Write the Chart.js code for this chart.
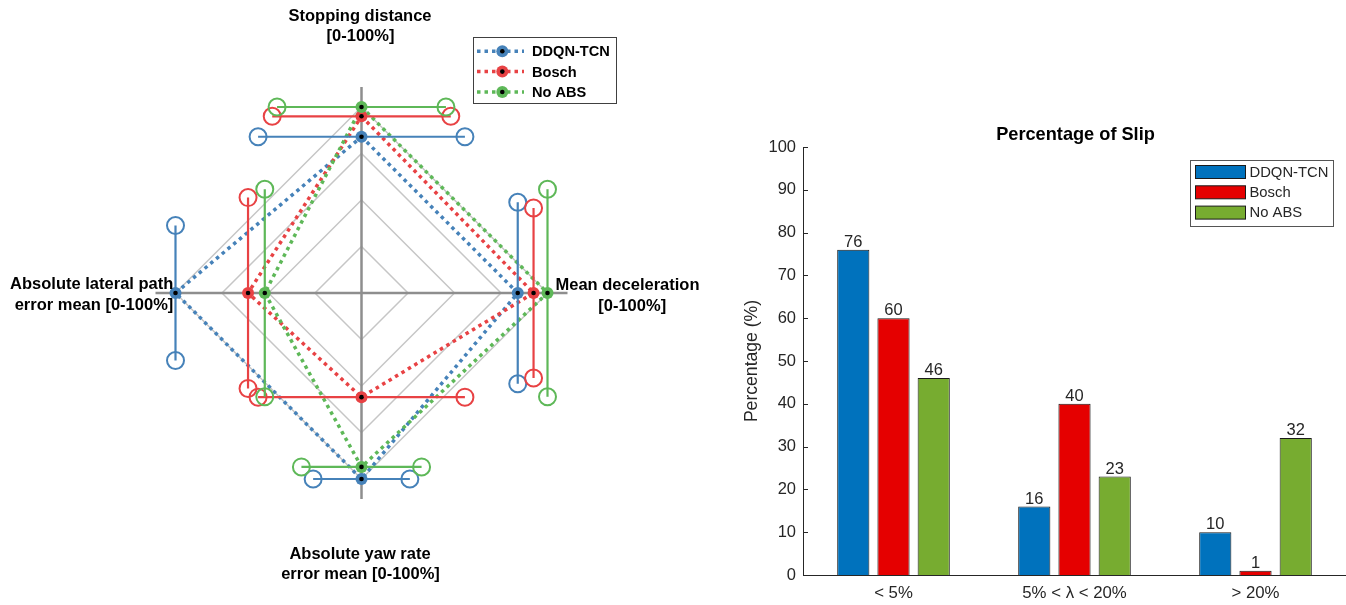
<!DOCTYPE html>
<html>
<head>
<meta charset="utf-8">
<title>ABS controller comparison</title>
<script src="https://cdn.jsdelivr.net/npm/chart.js@4.4.1/dist/chart.umd.min.js"></script>
<style>
  html, body { margin: 0; padding: 0; background: #ffffff; }
  #wrap { position: relative; width: 1346px; height: 605px; overflow: hidden; background: #ffffff; }
  #spider { position: absolute; left: 0; top: 0; }
  #bars { position: absolute; left: 730px; top: 0; }
</style>
</head>
<body>
<div id="wrap">
  <canvas id="spider" width="730" height="605"></canvas>
  <canvas id="bars" width="616" height="605"></canvas>
</div>
<script>
// ---------------- spider plot data (normalised scores, %) ----------------
const metricLabels = [
  ['Stopping distance', '[0-100%]'],
  ['Mean deceleration', '[0-100%]'],
  ['Absolute yaw rate', 'error mean [0-100%]'],
  ['Absolute lateral path', 'error mean [0-100%]']
];
const methodNames = ['DDQN-TCN', 'Bosch', 'No ABS'];
const ddqnScore  = [84, 84, 100, 100];
const boschScore = [95, 92.5, 56, 61];
const noAbsScore = [100, 100, 93.5, 52];
const ddqnSpread  = [55.6, 48.8, 26, 36.3];
const boschSpread = [48, 45.7, 55.6, 51.3];
const noAbsSpread = [45.4, 55.8, 32.3, 55.8];
const webLevels = [25, 50, 75, 100];
const axisReach = 110.75;

// ---------------- slip histogram data (%) ----------------
const slipBands = ['< 5%', '5% < \u03bb < 20%', '> 20%'];
const ddqnSlip  = [76, 16, 10];
const boschSlip = [60, 40, 1];
const noAbsSlip = [46, 23, 32];
const slipTickStep = 10;

// ---------------- shared styling ----------------
const FONT = "'Liberation Sans', Arial, Helvetica, sans-serif";
const spiderColors = ['rgb(70,130,185)', 'rgb(232,66,68)', 'rgb(94,184,88)'];
const barColors = ['#0072BD', '#E50000', '#77AC30'];
const axisInk = '#262626';

// ---------------- spider plot ----------------
const SP = { W: 730, H: 605, CX: 361.5, CY: 293, PX: 1.86 };
const nAxes = metricLabels.length;

function axisDir(i) {
  const a = Math.PI / 2 - i * 2 * Math.PI / nAxes;
  return [Math.round(Math.cos(a) * 1e9) / 1e9, Math.round(Math.sin(a) * 1e9) / 1e9];
}
function polar(i, v) {
  const [c, s] = axisDir(i);
  return { x: v * c, y: v * s };
}

const spiderSets = [];

// concentric web
webLevels.forEach(level => {
  const ring = metricLabels.map((_, i) => polar(i, level));
  ring.push(ring[0]);
  spiderSets.push({
    data: ring, showLine: true, borderColor: '#c6c6c6', borderWidth: 1.5,
    pointRadius: 0, order: 60
  });
});

// axis spokes
metricLabels.forEach((_, i) => {
  spiderSets.push({
    data: [{ x: 0, y: 0 }, polar(i, axisReach)], showLine: true,
    borderColor: '#8e8e8e', borderWidth: 2.5, pointRadius: 0, order: 50
  });
});

const scoreTable = [ddqnScore, boschScore, noAbsScore];
const spreadTable = [ddqnSpread, boschSpread, noAbsSpread];

scoreTable.forEach((scores, k) => {
  const col = spiderColors[k];
  const pts = scores.map((v, i) => polar(i, v));

  // dotted outline of each controller
  spiderSets.push({
    label: methodNames[k], data: [...pts, pts[0]], showLine: true,
    borderColor: col, borderWidth: 3.5, borderDash: [3.5, 4], borderCapStyle: 'butt',
    pointRadius: 0, order: 40 - k
  });

  // spread bars, drawn across each axis
  scores.forEach((v, i) => {
    const [c, s] = axisDir(i);
    const e = spreadTable[k][i];
    const p = pts[i];
    spiderSets.push({
      data: [{ x: p.x + e * s, y: p.y - e * c }, { x: p.x - e * s, y: p.y + e * c }],
      showLine: true, borderColor: col, borderWidth: 2.2,
      pointRadius: 8.5, pointBorderWidth: 2, pointBorderColor: col,
      pointBackgroundColor: 'rgba(0,0,0,0)', order: 30 - k
    });
  });

  // markers
  spiderSets.push({
    data: pts, showLine: false, pointRadius: 6, pointBorderWidth: 0,
    pointBackgroundColor: col, order: 10 - k
  });
  spiderSets.push({
    data: pts, showLine: false, pointRadius: 2.3, pointBorderWidth: 0,
    pointBackgroundColor: '#000000', order: 2 - k
  });
});

// axis titles, offsets in pixels from the centre
const labelSpots = [
  { align: 'center', lines: [[-1.5, -272.5], [-1, -252]] },
  { align: 'center', lines: [[266, -3], [270.7, 18]] },
  { align: 'center', lines: [[-1.5, 265.5], [-1, 286]] },
  { align: 'right',  lines: [[-188.2, -4], [-188.2, 17]] }
];

const spiderText = {
  id: 'spiderText',
  afterDatasetsDraw(chart) {
    const ctx = chart.ctx;
    const cx = chart.scales.x.getPixelForValue(0);
    const cy = chart.scales.y.getPixelForValue(0);
    ctx.save();
    ctx.fillStyle = '#000000';
    ctx.font = 'bold 16.5px ' + FONT;
    ctx.textBaseline = 'alphabetic';
    metricLabels.forEach((lines, i) => {
      const spot = labelSpots[i];
      ctx.textAlign = spot.align;
      lines.forEach((txt, j) => {
        ctx.fillText(txt, cx + spot.lines[j][0], cy + spot.lines[j][1]);
      });
    });
    ctx.restore();
  },
  afterDraw(chart) {
    // legend box
    const ctx = chart.ctx;
    const box = { x: 473.5, y: 37.5, w: 143, h: 66 };
    ctx.save();
    ctx.fillStyle = '#ffffff';
    ctx.fillRect(box.x, box.y, box.w, box.h);
    ctx.strokeStyle = '#404040';
    ctx.lineWidth = 1;
    ctx.strokeRect(box.x, box.y, box.w, box.h);
    methodNames.forEach((name, k) => {
      const y = 51.2 + k * 20.4;
      const col = spiderColors[k];
      ctx.strokeStyle = col;
      ctx.lineWidth = 3.5;
      ctx.setLineDash([3.5, 4]);
      ctx.beginPath();
      ctx.moveTo(477, y);
      ctx.lineTo(524, y);
      ctx.stroke();
      ctx.setLineDash([]);
      ctx.fillStyle = col;
      ctx.beginPath();
      ctx.arc(502.3, y, 6, 0, Math.PI * 2);
      ctx.fill();
      ctx.fillStyle = '#000000';
      ctx.beginPath();
      ctx.arc(502.3, y, 2.3, 0, Math.PI * 2);
      ctx.fill();
      ctx.font = 'bold 14.6px ' + FONT;
      ctx.textAlign = 'left';
      ctx.textBaseline = 'middle';
      ctx.fillText(name, 532, y + 1);
    });
    ctx.restore();
  }
};

new Chart(document.getElementById('spider'), {
  type: 'scatter',
  data: { datasets: spiderSets },
  options: {
    responsive: false,
    animation: false,
    events: [],
    devicePixelRatio: 1,
    layout: { padding: 0, autoPadding: false },
    plugins: { legend: { display: false }, tooltip: { enabled: false } },
    scales: {
      x: { type: 'linear', display: false, min: -SP.CX / SP.PX, max: (SP.W - SP.CX) / SP.PX },
      y: { type: 'linear', display: false, min: -(SP.H - SP.CY) / SP.PX, max: SP.CY / SP.PX }
    }
  },
  plugins: [spiderText]
});

// ---------------- slip histogram ----------------
const slipSeries = [ddqnSlip, boschSlip, noAbsSlip];

const barDecor = {
  id: 'barDecor',
  afterDatasetsDraw(chart) {
    const ctx = chart.ctx;
    ctx.save();
    ctx.fillStyle = axisInk;
    ctx.font = '16.5px ' + FONT;
    ctx.textAlign = 'center';
    ctx.textBaseline = 'alphabetic';
    chart.data.datasets.forEach((ds, d) => {
      chart.getDatasetMeta(d).data.forEach((bar, i) => {
        ctx.fillText(String(ds.data[i]), bar.x, bar.y - 3);
      });
    });
    ctx.restore();
  },
  afterDraw(chart) {
    const ctx = chart.ctx;
    const area = chart.chartArea;
    const ys = chart.scales.y;
    ctx.save();
    // inward tick marks on the value axis
    ctx.strokeStyle = axisInk;
    ctx.lineWidth = 1;
    ys.ticks.forEach(t => {
      const py = Math.round(ys.getPixelForValue(t.value)) + 0.5;
      ctx.beginPath();
      ctx.moveTo(area.left, py);
      ctx.lineTo(area.left + 5, py);
      ctx.stroke();
    });
    // title
    ctx.fillStyle = '#000000';
    ctx.font = 'bold 18.2px ' + FONT;
    ctx.textAlign = 'center';
    ctx.textBaseline = 'alphabetic';
    ctx.fillText('Percentage of Slip', (area.left + area.right) / 2 + 1, area.top - 7.5);
    // legend
    const box = { x: Math.round(area.right - 13) - 143 + 0.5, y: Math.round(area.top + 13) + 0.5, w: 143, h: 66 };
    ctx.fillStyle = '#ffffff';
    ctx.fillRect(box.x, box.y, box.w, box.h);
    ctx.strokeStyle = '#555555';
    ctx.strokeRect(box.x, box.y, box.w, box.h);
    methodNames.forEach((name, k) => {
      const yc = box.y + 11.5 + k * 20.3;
      ctx.fillStyle = barColors[k];
      ctx.fillRect(box.x + 5, yc - 6.5, 50, 13);
      ctx.strokeStyle = '#1a1a1a';
      ctx.strokeRect(box.x + 5, yc - 6.5, 50, 13);
      ctx.fillStyle = axisInk;
      ctx.font = '14.8px ' + FONT;
      ctx.textAlign = 'left';
      ctx.textBaseline = 'middle';
      ctx.fillText(name, box.x + 59, yc + 0.5);
    });
    ctx.restore();
  }
};

new Chart(document.getElementById('bars'), {
  type: 'bar',
  data: {
    labels: slipBands,
    datasets: slipSeries.map((vals, k) => ({
      label: methodNames[k],
      data: vals,
      backgroundColor: barColors[k],
      borderColor: '#1a1a1a',
      borderWidth: 1,
      categoryPercentage: 2 / 3,
      barPercentage: 0.8
    }))
  },
  options: {
    responsive: false,
    animation: false,
    events: [],
    devicePixelRatio: 1,
    layout: { padding: { top: 147, right: 0, left: 0, bottom: 0 } },
    plugins: { legend: { display: false }, tooltip: { enabled: false }, title: { display: false } },
    scales: {
      x: {
        grid: { display: false, drawTicks: false },
        border: { display: true, color: axisInk, width: 1 },
        ticks: { color: axisInk, font: { family: FONT, size: 16.8 }, padding: 8, maxRotation: 0, autoSkip: false },
        afterFit(scale) { scale.height = 30; }
      },
      y: {
        min: 0, max: 100,
        grid: { display: false, drawTicks: false },
        border: { display: true, color: axisInk, width: 1 },
        ticks: { stepSize: slipTickStep, color: axisInk, font: { family: FONT, size: 16.5 }, padding: 7 },
        title: {
          display: true, text: 'Percentage (%)', color: axisInk,
          font: { family: FONT, size: 17.6 }, padding: { top: 12, bottom: 0 }
        },
        afterFit(scale) { scale.width = 73; }
      }
    }
  },
  plugins: [barDecor]
});
</script>
</body>
</html>
